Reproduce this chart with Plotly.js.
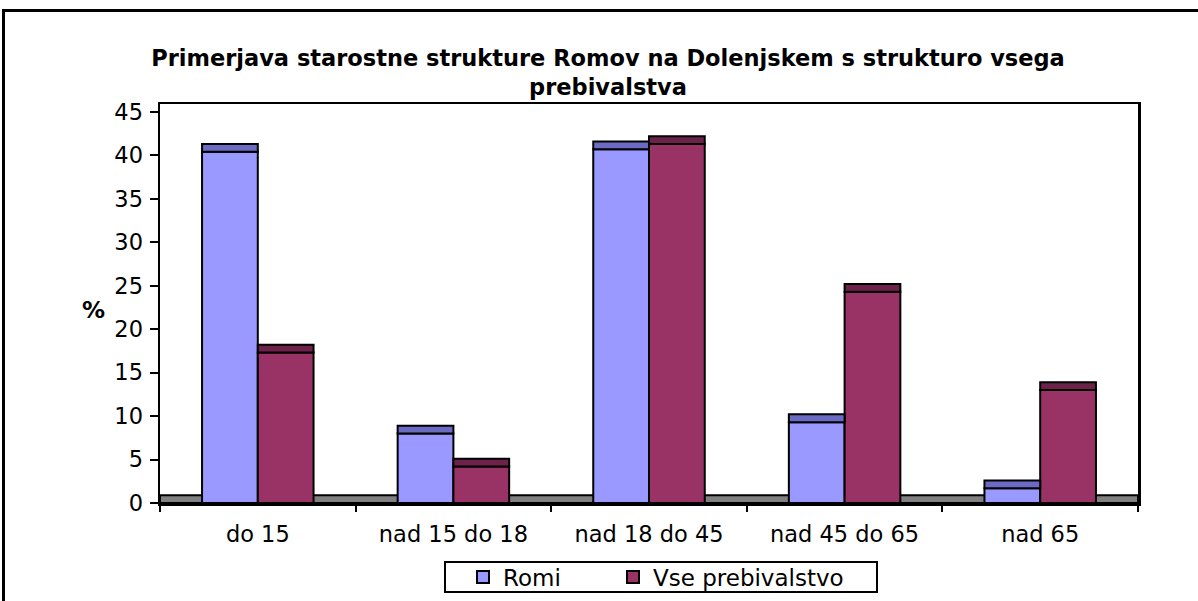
<!DOCTYPE html>
<html>
<head>
<meta charset="utf-8">
<script src="https://cdn.plot.ly/plotly-3.0.1.min.js"></script>
<style>
  html, body { margin: 0; padding: 0; background: #fff; }
  #wrap { position: relative; width: 1198px; height: 601px; overflow: hidden; }
  #chart { width: 1198px; height: 601px; }
  #frame { position: absolute; left: 2px; top: 9px; width: 1400px; height: 800px;
           border-top: 3px solid #000; border-left: 3px solid #000; pointer-events: none; }
</style>
</head>
<body>
<div id="wrap">
  <div id="chart"></div>
  <div id="frame"></div>
</div>
<script>
// ---- data ----
const categories = ['do 15', 'nad 15 do 18', 'nad 18 do 45', 'nad 45 do 65', 'nad 65'];
const romi = [40.4, 8.0, 40.7, 9.3, 1.7];
const vsePrebivalstvo = [17.3, 4.2, 41.3, 24.3, 13.0];
const seriesNames = ['Romi', 'Vse prebivalstvo'];
const yTicks = [0, 5, 10, 15, 20, 25, 30, 35, 40, 45];

// ---- style ----
const DEPTH = 0.9;           // visual depth of 3D top face (in value units)
const FONT = 'DejaVu Sans, Arial, sans-serif';
const colRomi = '#9999FF', capRomi = '#6B6BC4';
const colVse = '#993366', capVse = '#6D2349';

const outline = { color: '#000', width: 2 };

const traces = [
  { type: 'bar', name: seriesNames[0], x: categories, y: romi, offsetgroup: 'r',
    marker: { color: colRomi, line: outline }, legend: 'legend' },
  { type: 'bar', name: seriesNames[1], x: categories, y: vsePrebivalstvo, offsetgroup: 'v',
    marker: { color: colVse, line: outline }, legend: 'legend2' },
  { type: 'bar', name: seriesNames[0] + ' top', x: categories, base: romi,
    y: romi.map(() => DEPTH), offsetgroup: 'r', showlegend: false,
    marker: { color: capRomi, line: outline } },
  { type: 'bar', name: seriesNames[1] + ' top', x: categories, base: vsePrebivalstvo,
    y: vsePrebivalstvo.map(() => DEPTH), offsetgroup: 'v', showlegend: false,
    marker: { color: capVse, line: outline } }
];

const L = 160, R = 60, T = 104, B = 98, W = 1198, H = 601;
const pw = W - L - R, ph = H - T - B;
const px2x = p => (p - L) / pw;
const py2y = p => (H - B - p) / ph;
const cx = p => p / W;
const cy = p => 1 - p / H;

const legendCommon = {
  orientation: 'h', xanchor: 'left', yanchor: 'middle',
  xref: 'container', yref: 'container',
  bgcolor: 'rgba(0,0,0,0)', borderwidth: 0,
  font: { family: FONT, size: 23, color: '#000' }
};

const layout = {
  width: W, height: H,
  margin: { l: L, r: R, t: T, b: B, pad: 0, autoexpand: false },
  paper_bgcolor: 'rgba(0,0,0,0)',
  plot_bgcolor: '#fff',
  font: { family: FONT, size: 22, color: '#000' },
  barmode: 'group',
  bargap: 0.43,
  bargroupgap: 0,
  title: {
    text: '<b>Primerjava starostne strukture Romov na Dolenjskem s strukturo vsega<br>prebivalstva</b>',
    font: { family: FONT, size: 22.5, color: '#000' },
    xref: 'container', yref: 'container',
    x: 608 / W, xanchor: 'center',
    y: 1 - 66 / H, yanchor: 'top'
  },
  xaxis: {
    type: 'category',
    range: [-0.5, categories.length - 0.5],
    showline: true, linecolor: '#000', linewidth: 2.5, mirror: true,
    ticks: 'outside', tickson: 'boundaries', ticklen: 6, tickwidth: 2, tickcolor: '#000',
    ticklabelstandoff: 9,
    showgrid: false, zeroline: false, automargin: false,
    tickfont: { family: FONT, size: 22.5, color: '#000' }
  },
  yaxis: {
    range: [0, 45 + DEPTH],
    tickvals: yTicks, ticktext: yTicks.map(String),
    showline: true, linecolor: '#000', linewidth: 2.5, mirror: true,
    ticks: 'outside', ticklen: 8, tickwidth: 2, tickcolor: '#000',
    ticklabelstandoff: 2,
    showgrid: false, zeroline: false, automargin: false,
    tickfont: { family: FONT, size: 22.5, color: '#000' }
  },
  yaxis2: {
    overlaying: 'y', anchor: 'x', side: 'left',
    range: [-DEPTH, 45],
    tickvals: yTicks, showticklabels: false, ticks: '',
    showgrid: true, gridcolor: '#000', gridwidth: 2,
    showline: false, zeroline: false, automargin: false
  },
  shapes: [
    { type: 'rect', xref: 'paper', yref: 'y', x0: 0, x1: 1, y0: 0, y1: DEPTH,
      fillcolor: '#808080', line: { color: '#000', width: 2 }, layer: 'between' },
    { type: 'rect', xref: 'paper', yref: 'paper',
      x0: px2x(445), x1: px2x(877), y0: py2y(562), y1: py2y(592),
      fillcolor: '#fff', line: { color: '#000', width: 2 }, layer: 'above' }
  ],
  annotations: [
    { text: '<b>%</b>', xref: 'paper', yref: 'paper', x: px2x(93), y: py2y(310),
      xanchor: 'center', yanchor: 'middle', showarrow: false,
      font: { family: FONT, size: 23, color: '#000' } }
  ],
  showlegend: true,
  legend: Object.assign({ x: cx(463), y: cy(577) }, legendCommon),
  legend2: Object.assign({ x: cx(613), y: cy(577) }, legendCommon)
};

Plotly.newPlot('chart', traces, layout, { displayModeBar: false, staticPlot: true });
</script>
</body>
</html>
